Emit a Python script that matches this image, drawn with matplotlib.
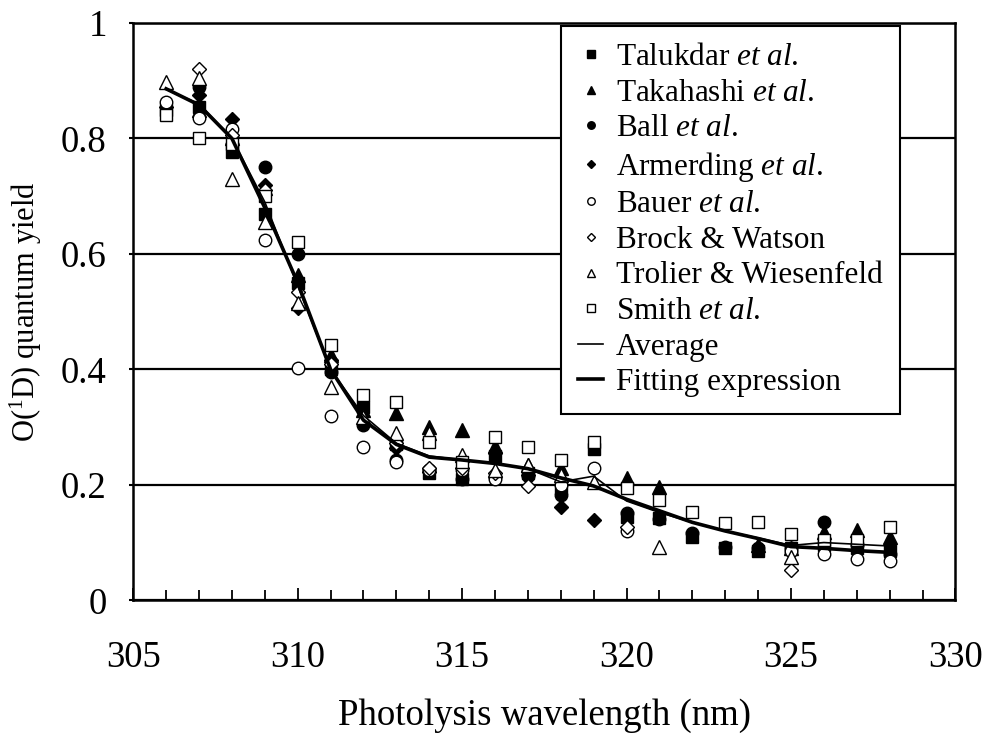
import numpy as np
import matplotlib
matplotlib.use('Agg')
import matplotlib.pyplot as plt
from matplotlib.ticker import MultipleLocator
from matplotlib.lines import Line2D

plt.rcParams['font.family'] = ['Liberation Serif', 'DejaVu Serif']
plt.rcParams['mathtext.fontset'] = 'custom'
plt.rcParams['mathtext.rm'] = 'Liberation Serif'
plt.rcParams['mathtext.it'] = 'Liberation Serif:italic'

nan = np.nan
wavelength = np.arange(306, 329)

# 各研究组的量子产率
talukdar = [0.85, 0.855, 0.776, 0.67, 0.55, 0.40, 0.335, 0.27, 0.22, 0.21, 0.25, 0.22,
            0.195, 0.262, 0.145, 0.143, 0.11, 0.09, 0.085, 0.09, 0.095, 0.09, 0.085]
takahashi = [nan, 0.85, 0.80, 0.715, 0.563, 0.425, 0.33, 0.324, 0.30, 0.295, 0.267, 0.235,
             0.229, nan, 0.211, 0.197, nan, nan, 0.095, 0.09, 0.118, 0.121, 0.109]
ball = [nan, 0.89, 0.79, 0.75, 0.60, 0.395, 0.303, 0.243, 0.225, 0.21, 0.214, 0.215,
        0.182, nan, 0.151, 0.14, 0.116, 0.092, 0.09, 0.09, 0.135, 0.095, 0.08]
armerding = [0.854, 0.875, 0.834, 0.72, 0.506, 0.416, nan, 0.263, 0.222, nan, 0.255, 0.217,
             0.161, 0.139, nan, nan, nan, nan, nan, nan, nan, nan, nan]
bauer = [0.863, 0.835, 0.816, 0.624, 0.402, 0.32, 0.265, 0.24, 0.225, 0.225, 0.21, nan,
         0.20, 0.229, 0.12, nan, nan, nan, nan, 0.085, 0.08, 0.071, 0.068]
brock = [nan, 0.92, 0.806, 0.71, 0.534, 0.41, nan, 0.272, 0.23, 0.23, 0.22, 0.198,
         nan, nan, 0.127, nan, nan, nan, nan, 0.052, nan, nan, nan]
trolier = [0.898, 0.905, 0.73, 0.655, 0.515, 0.37, 0.317, 0.289, 0.29, 0.251, 0.225, 0.234,
           0.217, 0.205, nan, 0.093, nan, nan, nan, 0.075, nan, nan, nan]
smith = [0.84, 0.80, 0.79, 0.70, 0.62, 0.442, 0.355, 0.343, 0.274, 0.24, 0.283, 0.265,
         0.243, 0.274, 0.194, 0.173, 0.153, 0.134, 0.135, 0.114, 0.104, 0.104, 0.127]

average = [0.885, 0.86, 0.80, 0.69, 0.545, 0.40, 0.32, 0.272, 0.25, 0.243, 0.237, 0.228,
           0.205, 0.215, 0.172, 0.152, 0.135, 0.12, 0.108, 0.095, 0.10, 0.097, 0.094]
fitting = [0.886, 0.858, 0.80, 0.68, 0.55, 0.40, 0.312, 0.27, 0.248, 0.243, 0.237, 0.228,
           0.212, 0.198, 0.175, 0.155, 0.135, 0.12, 0.107, 0.093, 0.09, 0.086, 0.083]

series = [
    (talukdar, 'Talukdar $et\\ al$.', 's', 'black', 8.5),
    (takahashi, 'Takahashi $et\\ al$.', '^', 'black', 9.5),
    (ball, 'Ball $et\\ al$.', 'o', 'black', 9),
    (armerding, 'Armerding $et\\ al$.', 'D', 'black', 7),
    (bauer, 'Bauer $et\\ al$.', 'o', 'white', 9),
    (brock, 'Brock & Watson', 'D', 'white', 7),
    (trolier, 'Trolier & Wiesenfeld', '^', 'white', 9.5),
    (smith, 'Smith $et\\ al$.', 's', 'white', 9),
]

fig = plt.figure(figsize=(9.87, 7.42), dpi=100)
ax = fig.add_axes([0.135, 0.191, 0.833, 0.778])

ax.plot(wavelength, average, color='black', lw=1.2, zorder=4)
ax.plot(wavelength, fitting, color='black', lw=2.6, zorder=4)

handles = []
for vals, label, m, fc, ms in series:
    ax.plot(wavelength, vals, ls='none', marker=m, ms=ms, mfc=fc, mec='black',
            mew=1.0, zorder=3)
    handles.append(Line2D([], [], ls='none', marker=m, ms=ms * 0.6, mfc=fc,
                          mec='black', mew=1.0, label=label))
handles.append(Line2D([], [], color='black', lw=1.2, label='Average'))
handles.append(Line2D([], [], color='black', lw=2.6, label='Fitting expression'))

ax.set_xlim(305, 330)
ax.set_ylim(0, 1)
ax.xaxis.set_major_locator(MultipleLocator(5))
ax.xaxis.set_minor_locator(MultipleLocator(1))
ax.set_yticks([0, 0.2, 0.4, 0.6, 0.8, 1.0])
ax.set_yticklabels(['0', '0.2', '0.4', '0.6', '0.8', '1'])

ax.tick_params(axis='x', which='major', direction='in', length=9, width=1.3,
               labelsize=26.5, pad=29)
ax.tick_params(axis='x', which='minor', direction='in', length=7, width=1.3)
ax.tick_params(axis='y', which='major', direction='out', length=3, width=1.5,
               labelsize=26.5, pad=16)
ax.tick_params(top=False, right=False)

ax.grid(axis='y', color='black', lw=1.6)
ax.set_axisbelow(True)
for sp in ax.spines.values():
    sp.set_linewidth(1.8)

ax.set_xlabel('Photolysis wavelength (nm)', fontsize=26.5, labelpad=17)
ax.set_ylabel('O($^{1}$D) quantum yield', fontsize=22, labelpad=12)

leg = ax.legend(handles=handles, loc='upper right', bbox_to_anchor=(0.932, 0.995),
                fontsize=22.5, frameon=True, fancybox=False, edgecolor='black',
                framealpha=1, handlelength=0.8, handletextpad=0.4,
                labelspacing=0.21, borderpad=0.55, borderaxespad=0)
leg.get_frame().set_linewidth(1.5)

fig.savefig('out.png', dpi=100)
